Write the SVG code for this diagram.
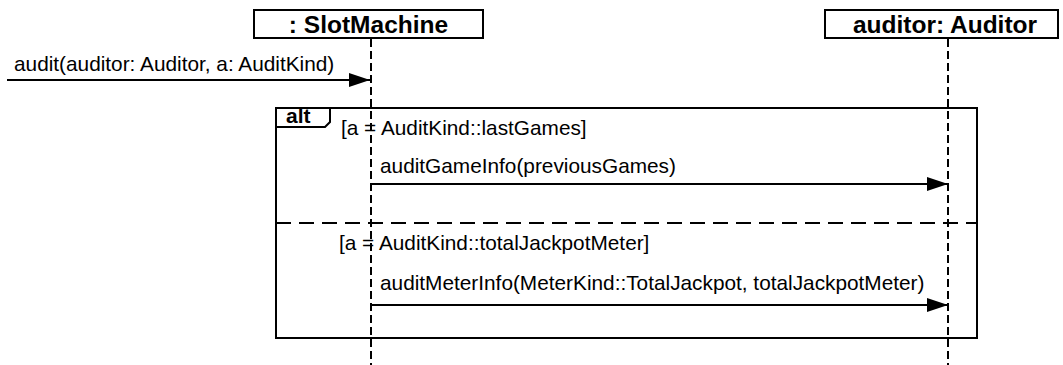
<svg xmlns="http://www.w3.org/2000/svg" width="1063" height="365" viewBox="0 0 1063 365">
<defs>
<marker id="arr" markerUnits="userSpaceOnUse" markerWidth="22" markerHeight="16" refX="21" refY="7" orient="auto">
<path d="M0,0 L21,7 L0,14 Z" fill="#000"/>
</marker>
<style>
.box{fill:#fff;stroke:#000;stroke-width:2}
.life{stroke:#000;stroke-width:2;stroke-dasharray:8 4;fill:none}
.msg{stroke:#000;stroke-width:2;fill:none;marker-end:url(#arr)}
.frame{fill:none;stroke:#000;stroke-width:2}
.sep{stroke:#000;stroke-width:2;stroke-dasharray:15 8}
.t{font-family:"Liberation Sans",Arial,Helvetica,sans-serif;font-size:20.8px;fill:#000}
.title{font-family:"Liberation Sans",Arial,Helvetica,sans-serif;font-size:24.5px;font-weight:bold;fill:#000;text-anchor:middle}
.kw{font-family:"Liberation Sans",Arial,Helvetica,sans-serif;font-size:21px;font-weight:bold;fill:#000}
</style>
</defs>
<g id="lifeline-slot">
<line class="life" x1="371" y1="39" x2="371" y2="365"/>
</g>
<g id="lifeline-auditor">
<line class="life" x1="948" y1="39" x2="948" y2="365"/>
</g>
<g id="slotmachine">
<rect class="box" x="254" y="10" width="229" height="28"/>
<text class="title" x="368.5" y="33">: SlotMachine</text>
</g>
<g id="auditor">
<rect class="box" x="825" y="10" width="233" height="28"/>
<text class="title" x="945" y="33">auditor: Auditor</text>
</g>
<g id="alt-frame">
<rect class="frame" x="276" y="108" width="701" height="230"/>
<path class="frame" d="M276,127 L325,127 L330,122 L330,108"/>
<text class="kw" x="286" y="123">alt</text>
<text class="t" x="341" y="135">[a = AuditKind::lastGames]</text>
<line class="sep" x1="276" y1="223" x2="977" y2="223"/>
<text class="t" x="339" y="250">[a = AuditKind::totalJackpotMeter]</text>
</g>
<g id="connectors">
<line class="msg" x1="7" y1="80" x2="370" y2="80"/>
<text class="t" x="14" y="71">audit(auditor: Auditor, a: AuditKind)</text>
<line class="msg" x1="372" y1="184" x2="948" y2="184"/>
<text class="t" x="380" y="173">auditGameInfo(previousGames)</text>
<line class="msg" x1="372" y1="305" x2="948" y2="305"/>
<text class="t" x="380" y="290">auditMeterInfo(MeterKind::TotalJackpot, totalJackpotMeter)</text>
</g>
</svg>
